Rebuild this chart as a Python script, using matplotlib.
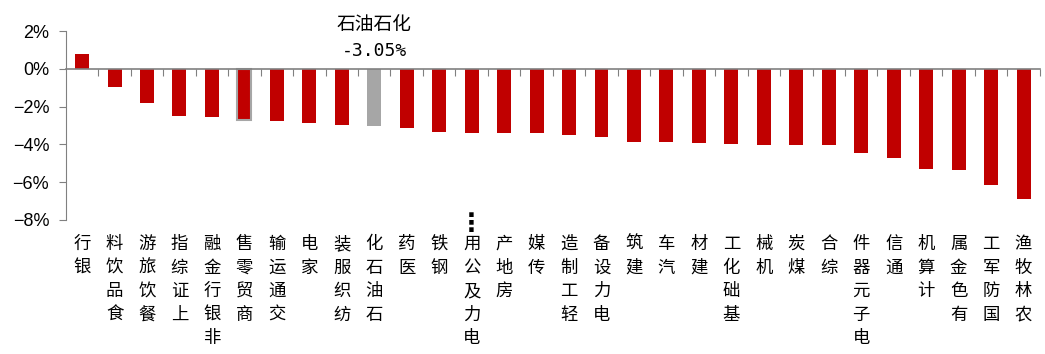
import matplotlib

matplotlib.use("Agg")
import matplotlib.pyplot as plt  # noqa: E402
from matplotlib.ticker import FuncFormatter, FixedLocator  # noqa: E402

plt.rcParams["font.family"] = ["Liberation Sans", "Noto Sans CJK SC", "DejaVu Sans"]
plt.rcParams["axes.unicode_minus"] = True

industries = [
    "银行", "食品饮料", "餐饮旅游", "上证综指", "非银行金融", "商贸零售", "交通运输", "家电",
    "纺织服装", "石油石化", "医药", "钢铁", "电力及公用…", "房地产", "传媒", "轻工制造",
    "电力设备", "建筑", "汽车", "建材", "基础化工", "机械", "煤炭", "综合",
    "电子元器件", "通信", "计算机", "有色金属", "国防军工", "农林牧渔",
]
returns = [
    0.81, -0.97, -1.83, -2.52, -2.57, -2.73, -2.78, -2.89,
    -2.99, -3.05, -3.15, -3.33, -3.38, -3.38, -3.38, -3.49,
    -3.59, -3.86, -3.86, -3.91, -3.96, -4.01, -4.01, -4.01,
    -4.44, -4.70, -5.28, -5.34, -6.13, -6.87,
]
highlight = "石油石化"
outlined = "商贸零售"

RED = "#C00000"
GRAY = "#A6A6A6"
CJK = ["Noto Sans CJK SC", "DejaVu Sans"]

fig = plt.figure(figsize=(10.45, 3.54), dpi=100)
ax = fig.add_axes([0.063, 0.379, 0.932, 0.533])

x = list(range(len(industries)))
colors = [GRAY if name == highlight else RED for name in industries]
bars = ax.bar(x, returns, width=0.43, color=colors, zorder=2)
for bar, name in zip(bars, industries):
    if name == outlined:
        bar.set_edgecolor(GRAY)
        bar.set_linewidth(1.5)

ax.set_xlim(-0.5, len(industries) - 0.5)
ax.set_ylim(-8, 2)
ax.set_yticks([2, 0, -2, -4, -6, -8])
ax.yaxis.set_major_formatter(FuncFormatter(lambda v, _: f"{v:.0f}%".replace("-", "\u2212")))
ax.tick_params(axis="y", labelsize=13, length=5, color="#808080", pad=7)

for side in ("top", "right"):
    ax.spines[side].set_visible(False)
ax.spines["left"].set_color("#808080")
ax.spines["bottom"].set_position(("data", 0))
ax.spines["bottom"].set_color("#808080")
ax.spines["bottom"].set_linewidth(1.2)
ax.xaxis.set_major_locator(FixedLocator([i + 0.5 for i in x]))
ax.tick_params(axis="x", labelbottom=False, length=5, color="#808080", direction="out")

# labels read bottom-to-top with upright characters, hanging from the axis
xt = ax.get_xaxis_transform()
for i, name in enumerate(industries):
    body = name.rstrip("…")
    ax.text(i, -0.08, "\n".join(reversed(body)), transform=xt,
            ha="center", va="top", fontsize=12.5, linespacing=1.4, family=CJK)
    if body != name:
        # truncated label: the ellipsis stands upright above the text
        ax.text(i, -0.085, "\u22ee", transform=xt, ha="center", va="bottom",
                fontsize=18, fontweight="bold", family=["DejaVu Sans"], clip_on=False)

hi = industries.index(highlight)
ax.text(hi, 2.35, highlight, ha="center", va="center", fontsize=13.5,
        family=CJK, clip_on=False)
ax.text(hi, 0.95, f"{returns[hi]:.2f}%", ha="center", va="center", fontsize=13,
        family=["DejaVu Sans Mono"], clip_on=False)

fig.savefig("out.png", dpi=100)
